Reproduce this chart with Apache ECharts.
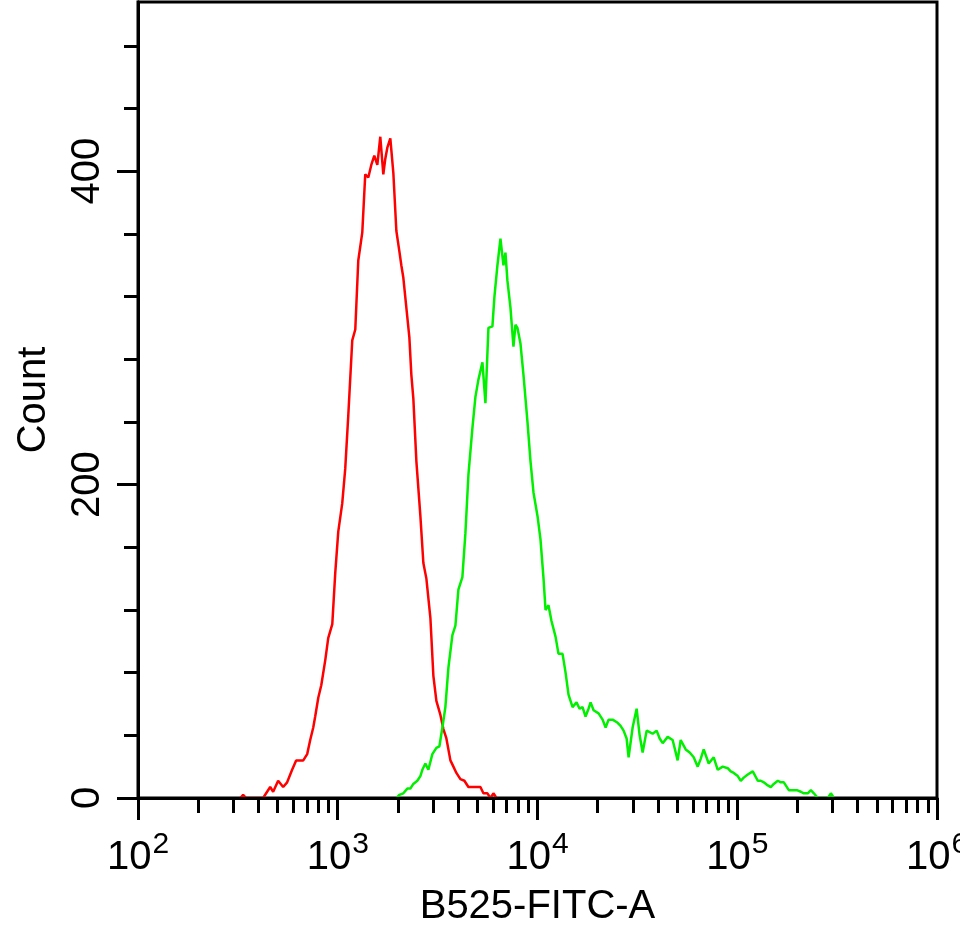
<!DOCTYPE html>
<html>
<head>
<meta charset="utf-8">
<script src="https://cdn.jsdelivr.net/npm/echarts@6/dist/echarts.min.js"></script>
<style>
html,body{margin:0;padding:0;background:#fff;}
#chart{width:960px;height:928px;}
</style>
</head>
<body>
<div id="chart"></div>
<script>
// B525-FITC-A intensity (log scale) and event counts
var redX = [325,336,348,423,438,459,475,503,533,558,591,619,649,672,703,728,754,771,799,827,866,896,939,972,1006,1053,1090,1129,1182,1224,1267,1327,1373,1422,1472,1524,1578,1633,1691,1730,1771,1833,1898,1965,2034,2081,2130,2205,2283,2336,2390,2475,2592,2683,2778,2909,3011,3117,3265,3380,3499,3664,3793,3926,4111,4306,4509,4722,4945,5179,5361,5615,5812,6016,6229];
var redY = [0,2,0,0,3,7,4,11,7,10,18,24,24,24,28,37,45,52,64,72,88,102,111,144,170,188,210,244,292,299,343,361,398,396,404,410,404,422,398,408,415,421,399,362,349,340,332,313,294,270,255,215,180,150,140,115,78,62,53,44,38,24,20,16,12,11,7,7,7,7,3,3,0,3,0];

var greenX = [1965,2034,2130,2230,2309,2390,2503,2592,2652,2746,2842,2976,3117,3228,3341,3458,3580,3749,3882,4018,4207,4356,4509,4722,4889,5061,5300,5487,5680,5948,6087,6302,6524,6753,6911,7072,7322,7580,7756,7938,8218,8507,8909,9223,9548,10000,10350,10720,10970,11350,11750,12310,12740,13350,13820,14300,14980,15680,16240,16810,17400,18010,18440,19090,20220,21180,21930,22700,23770,25180,26060,26980,27930,28580,29940,31350,32460,33600,35190,36430,37710,39500,40890,42330,44840,47490,50300,52100,55190,57800,60530,63390,65620,67930,71960,76230,79860,84590,89610,92760,96040,100600,104100,107800,112900,119600,126700,131200,135800,142200,147200,152400,159600,165200,171100,181200,189800,198700,208100,215400,225600,233600,241800,253300,284200,294200,304600];
var greenY = [0,2,3,6,6,9,11,14,18,22,18,28,32,33,45,58,83,104,110,133,141,169,206,236,256,267,278,252,300,301,320,340,357,340,348,330,313,288,302,300,290,270,240,215,195,180,165,140,120,123,113,103,92,92,80,66,58,61,57,58,52,57,61,56,54,50,45,50,50,48,46,43,38,26,45,57,40,29,43,42,41,43,38,35,39,37,24,37,31,29,26,20,25,31,22,26,18,20,19,17,16,14,11,13,15,17,11,11,10,8,7,9,11,10,10,5,5,5,4,3,3,5,3,0,0,3,0];

var decadeTicks = [100,1000,10000,100000,1000000];
var minorXTicks = [200,300,400,500,600,700,800,900,2000,3000,4000,5000,6000,7000,8000,9000,20000,30000,40000,50000,60000,70000,80000,90000,200000,300000,400000,500000,600000,700000,800000,900000];
var countTicks = [0,200,400];
var minorCountTicks = [40,80,120,160,240,280,320,360,440,480];
var countMax = 508;

function pairs(xs, ys){ return xs.map(function(x,i){ return [x, ys[i]]; }); }

var FONT = 'Liberation Sans, Arial, sans-serif';
var chart = echarts.init(document.getElementById('chart'), null, {renderer:'canvas'});
var axisLine = {show:true, lineStyle:{color:'#000', width:3}};

chart.setOption({
  animation:false,
  backgroundColor:'#fff',
  grid:{left:138, right:23, top:2, bottom:130, outerBoundsMode:'none', containLabel:false,
        show:true, borderColor:'#000', borderWidth:3, backgroundColor:'transparent'},
  xAxis:[
    {type:'log', logBase:10, min:100, max:1000000, z:10,
     axisLine:axisLine,
     axisTick:{show:true, customValues:minorXTicks, length:15, lineStyle:{color:'#000', width:3}},
     axisLabel:{show:false}, splitLine:{show:false}, minorTick:{show:false}},
    {type:'log', logBase:10, min:100, max:1000000, position:'bottom', z:10,
     axisLine:axisLine,
     axisTick:{show:true, customValues:decadeTicks, length:22, lineStyle:{color:'#000', width:3}},
     axisLabel:{show:true, customValues:decadeTicks, margin:30, fontFamily:FONT, hideOverlap:false,
       formatter:function(v){ return '{b|10}{s|' + Math.round(Math.log10(v)) + '}'; },
       rich:{ b:{fontSize:40, lineHeight:50, color:'#000', fontFamily:FONT, verticalAlign:'bottom'},
              s:{fontSize:30, color:'#000', fontFamily:FONT, verticalAlign:'top', padding:[2,0,0,1]} }},
     splitLine:{show:false},
     name:'B525-FITC-A', nameLocation:'middle', nameGap:89,
     nameTextStyle:{fontSize:40, color:'#000', fontFamily:FONT}}
  ],
  yAxis:[
    {type:'value', min:0, max:countMax, z:10,
     axisLine:axisLine,
     axisTick:{show:true, customValues:minorCountTicks, length:14, lineStyle:{color:'#000', width:3}},
     axisLabel:{show:false}, splitLine:{show:false}},
    {type:'value', min:0, max:countMax, position:'left', z:10,
     axisLine:axisLine,
     axisTick:{show:true, customValues:countTicks, length:21, lineStyle:{color:'#000', width:3}},
     axisLabel:{show:true, customValues:countTicks, rotate:90, margin:30, fontSize:40, color:'#000', fontFamily:FONT},
     splitLine:{show:false},
     name:'Count', nameLocation:'middle', nameGap:84,
     nameTextStyle:{fontSize:40, color:'#000', fontFamily:FONT}}
  ],
  series:[
    {type:'line', xAxisIndex:0, yAxisIndex:0, data:pairs(redX, redY), showSymbol:false, symbol:'none',
     lineStyle:{color:'#ff0000', width:2.5}, z:2},
    {type:'line', xAxisIndex:0, yAxisIndex:0, data:pairs(greenX, greenY), showSymbol:false, symbol:'none',
     lineStyle:{color:'#00f000', width:2.5}, z:2}
  ]
});
</script>
</body>
</html>
